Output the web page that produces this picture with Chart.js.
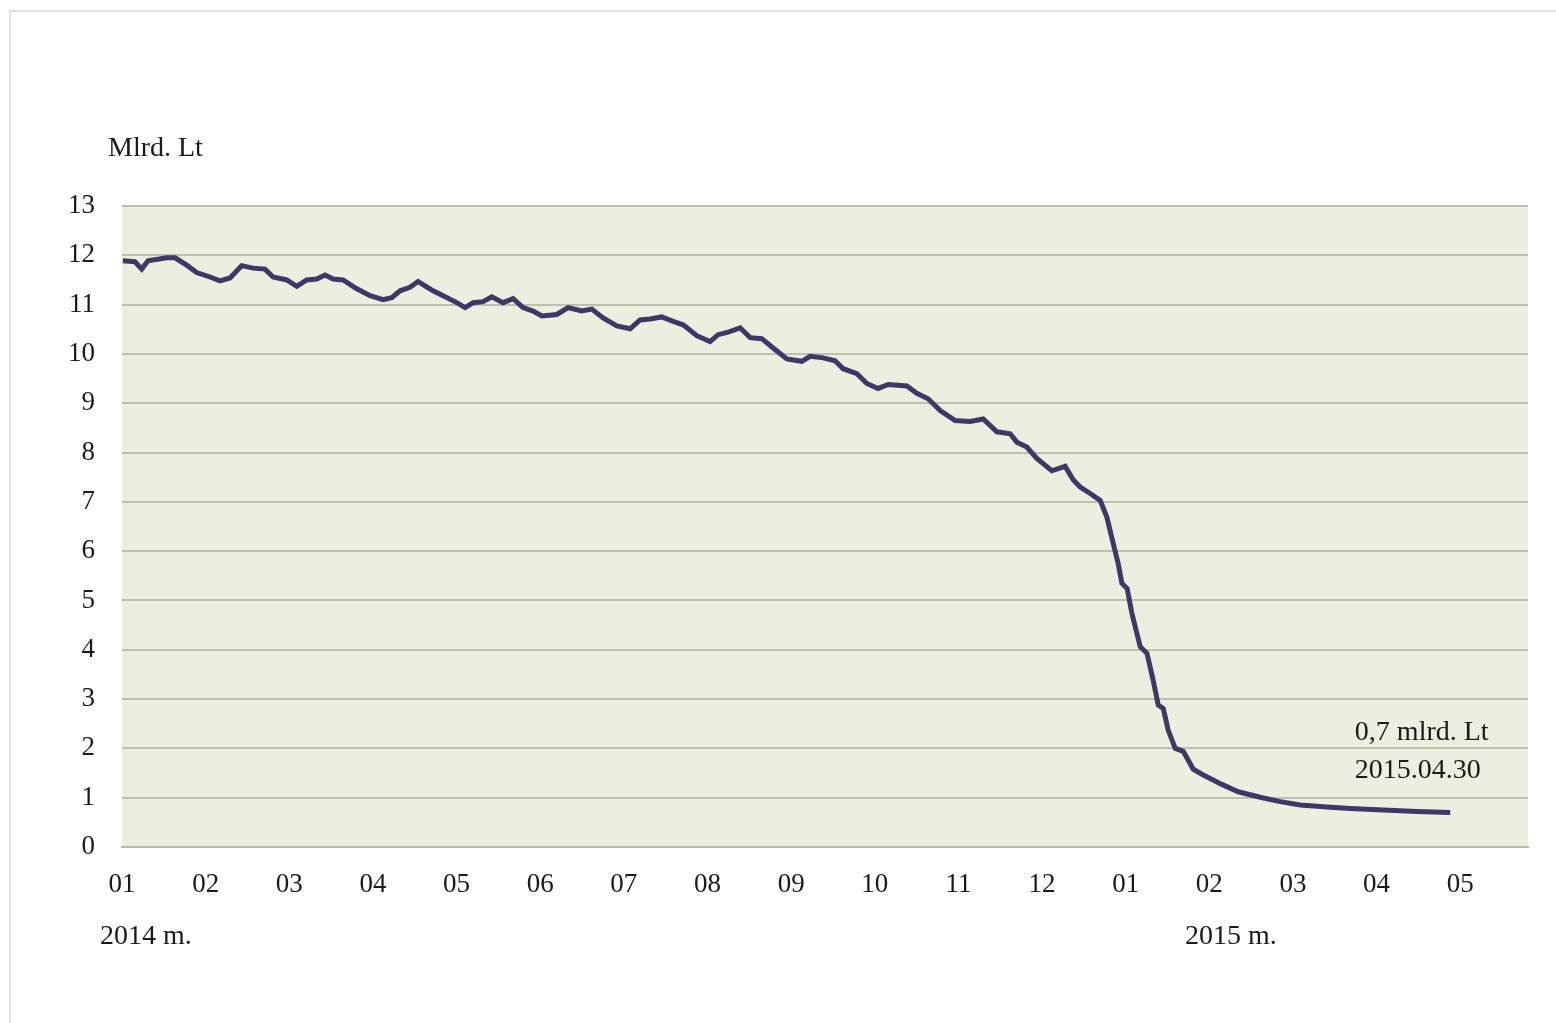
<!DOCTYPE html>
<html>
<head>
<meta charset="utf-8">
<script src="https://cdn.jsdelivr.net/npm/chart.js@4/dist/chart.umd.min.js"></script>
<style>
  html, body { margin: 0; padding: 0; background: #ffffff; }
  #wrap { width: 1556px; height: 1023px; position: relative; }
  canvas { display: block; }
</style>
</head>
<body>
<div id="wrap"><canvas id="c" width="1556" height="1023"></canvas></div>
<script>
// Month tick labels (x = months since January 2014)
const monthLabels = ["01","02","03","04","05","06","07","08","09","10","11","12","01","02","03","04","05"];
const yearLabels = ["2014 m.", "2015 m."];
const yTicks = [0,1,2,3,4,5,6,7,8,9,10,11,12,13];

// Series: position in months since 2014-01-01, and value (mlrd. Lt)
const months = [
  0.01,0.155,0.236,0.311,0.535,0.634,0.774,0.893,1.052,1.172,1.291,1.431,1.567,1.71,1.806,1.97,
  2.089,2.209,2.328,2.428,2.523,2.643,2.807,2.966,3.121,3.225,3.324,3.444,3.54,3.623,3.719,3.839,
  4.002,4.102,4.197,4.317,4.421,4.556,4.676,4.795,4.915,5.019,5.198,5.333,5.497,5.617,5.752,5.916,
  6.075,6.194,6.314,6.454,6.589,6.709,6.872,7.031,7.127,7.246,7.39,7.51,7.649,7.785,7.949,8.128,
  8.227,8.383,8.526,8.622,8.786,8.905,9.04,9.16,9.384,9.503,9.638,9.782,9.961,10.14,10.296,10.46,
  10.619,10.699,10.818,10.938,11.117,11.277,11.372,11.456,11.576,11.695,11.775,11.83,11.91,11.955,
  12.018,12.074,12.174,12.254,12.329,12.389,12.449,12.508,12.592,12.688,12.807,12.927,13.046,13.15,
  13.345,13.608,13.847,14.087,14.406,14.684,15.079,15.482,15.88
];
const values = [
  11.89,11.87,11.72,11.89,11.95,11.95,11.80,11.65,11.56,11.48,11.54,11.79,11.74,11.72,11.56,11.50,
  11.37,11.50,11.52,11.60,11.52,11.50,11.32,11.18,11.10,11.14,11.28,11.35,11.47,11.38,11.28,11.18,
  11.04,10.94,11.04,11.06,11.16,11.04,11.12,10.94,10.87,10.77,10.80,10.94,10.87,10.91,10.73,10.57,
  10.51,10.69,10.71,10.75,10.66,10.59,10.37,10.25,10.39,10.44,10.53,10.33,10.31,10.12,9.90,9.85,
  9.95,9.92,9.86,9.70,9.60,9.40,9.30,9.38,9.35,9.20,9.09,8.85,8.65,8.63,8.68,8.42,
  8.38,8.21,8.11,7.88,7.63,7.72,7.45,7.30,7.17,7.03,6.69,6.30,5.75,5.35,
  5.24,4.74,4.06,3.93,3.38,2.88,2.81,2.37,2.00,1.94,1.58,1.46,1.36,1.27,
  1.12,1.01,0.92,0.85,0.81,0.78,0.75,0.72,0.70
];
const annotationLines = ["0,7 mlrd. Lt", "2015.04.30"];
const unitLabel = "Mlrd. Lt";

const FONT = "'Liberation Serif', 'Times New Roman', serif";
const points = months.map((m, i) => ({ x: m, y: values[i] }));

const decorPlugin = {
  id: 'decor',
  beforeDraw(chart) {
    const { ctx, chartArea: a } = chart;
    ctx.save();
    ctx.fillStyle = '#ffffff';
    ctx.fillRect(0, 0, chart.width, chart.height);
    // outer frame
    ctx.strokeStyle = '#e2e2e2';
    ctx.lineWidth = 2;
    ctx.strokeRect(10, 11, chart.width - 8, chart.height - 8);
    // plot background
    ctx.fillStyle = '#ebefdf';
    ctx.fillRect(a.left, a.top, a.right - a.left, a.bottom - a.top);
    ctx.restore();
  },
  afterDraw(chart) {
    const { ctx, scales } = chart;
    const xs = scales.x, ys = scales.y;
    ctx.save();
    ctx.fillStyle = '#1a1a1a';
    ctx.font = "28px " + FONT;
    ctx.textBaseline = 'middle';
    ctx.textAlign = 'left';
    ctx.fillText(unitLabel, 108, 149);
    ctx.fillText(yearLabels[0], 100, 937);
    ctx.fillText(yearLabels[1], 1185, 937);
    const ax = xs.getPixelForValue(14.74);
    ctx.fillText(annotationLines[0], ax, ys.getPixelForValue(2.31));
    ctx.fillText(annotationLines[1], ax, ys.getPixelForValue(1.54));
    ctx.restore();
  }
};

new Chart(document.getElementById('c'), {
  type: 'line',
  data: {
    datasets: [{
      data: points,
      borderColor: '#3d3866',
      borderWidth: 5,
      pointRadius: 0,
      tension: 0,
      fill: false
    }]
  },
  options: {
    responsive: false,
    animation: false,
    events: [],
    layout: { padding: { top: 206, right: 28, bottom: 0, left: 0 } },
    plugins: { legend: { display: false }, tooltip: { enabled: false } },
    scales: {
      x: {
        type: 'linear',
        min: 0,
        max: 16.81,
        afterBuildTicks(scale) {
          scale.ticks = monthLabels.map((_, i) => ({ value: i }));
        },
        afterFit(scale) { scale.height = 1023 - 847; },
        grid: { display: false, drawTicks: false },
        border: { display: true, color: '#b8bca8', width: 2 },
        ticks: {
          color: '#1a1a1a',
          font: { family: FONT, size: 27 },
          padding: 22,
          maxRotation: 0,
          autoSkip: false,
          callback: (v) => monthLabels[v] ?? ''
        }
      },
      y: {
        min: 0,
        max: 13,
        afterBuildTicks(scale) {
          scale.ticks = yTicks.map(v => ({ value: v }));
        },
        afterFit(scale) { scale.width = 122; },
        grid: { color: '#bcc0ac', lineWidth: 2, drawTicks: false },
        border: { display: false },
        ticks: {
          color: '#1a1a1a',
          font: { family: FONT, size: 27 },
          padding: 27
        }
      }
    }
  },
  plugins: [decorPlugin]
});
</script>
</body>
</html>
